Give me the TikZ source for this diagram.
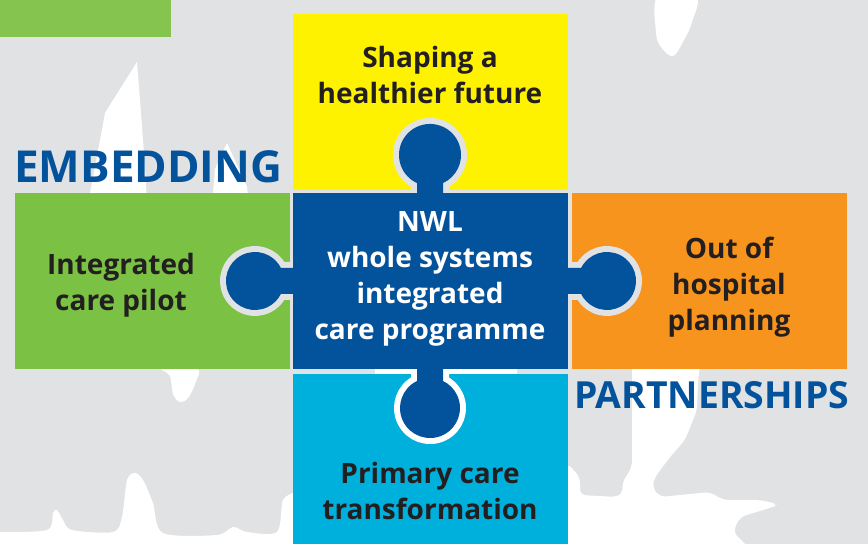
\documentclass[tikz,border=0pt]{standalone}
\usepackage{fontspec}
\setmainfont{Open Sans}
\definecolor{bggrey}{HTML}{E1E2E4}
\definecolor{nblue}{HTML}{03529C}
\definecolor{nyellow}{HTML}{FFF200}
\definecolor{ngreen}{HTML}{7BC143}
\definecolor{tlgreen}{HTML}{86C450}
\definecolor{norange}{HTML}{F7941E}
\definecolor{ncyan}{HTML}{00B0DC}
\definecolor{ntext}{HTML}{231F20}
\tikzset{
  boxtext/.style={font=\fontsize{28}{36}\selectfont\bfseries, text=ntext, align=center, inner sep=0pt},
  headtext/.style={font=\fontsize{42}{48}\selectfont\bfseries, text=nblue, inner sep=0pt},
  knobline/.style={line width=12pt, line join=round},
}
\begin{document}
\begin{tikzpicture}[x=1pt,y=1pt]
\useasboundingbox (0,0) rectangle (868,544);
\clip (0,0) rectangle (868,544);
\fill[bggrey] (0,0) rectangle (868,544);
% white silhouettes
\fill[white] (137,482) -- (140,444) -- (145,377) -- (147,340) -- (88,340) -- (90,351) -- (100,404) -- (105,431) -- cycle;
\fill[white] (227,401) -- (247,357) -- (249,340) -- (212,340) -- (215,375) -- cycle;
\fill[white] plot[smooth cycle, tension=0.6] coordinates {(162,176) (197,176) (195,160) (188,146) (180,142) (173,150) (170,168)};
\fill[white] plot[smooth cycle, tension=0.6] coordinates {(658,548) (696,548) (692,522) (684,504) (673,488) (661,497) (656,512)};
\fill[white] (-2,-2) -- (-2,12) -- plot[smooth, tension=0.5] coordinates {(0,12) (47,14) (53,31) (57,34) (63,24) (72,14) (113,12) (122,27) (127,64) (135,71) (143,64) (153,41) (163,11) (217,9) (233,17) (247,12) (277,12) (283,44) (296,52)} -- (296,-2) -- cycle;
\fill[white, rounded corners=6pt] (632,180) -- (632,77) -- (622,61) -- (623,51) -- (617,47) -- (580,49) -- (580,67) -- (567,81) -- (567,-4) -- (749,-4) -- (733,12) -- (740,27) -- (773,37) -- (778,40) -- (760,44) -- (723,44) -- (710,52) -- (680,49) -- (660,47) -- (652,57) -- (655,67) -- (670,87) -- (685,104) -- (697,134) -- (698,161) -- (700,180) -- cycle;
\fill[white, rounded corners=4pt] (375,166) rectangle (517,179);
% coloured boxes
\fill[tlgreen] (0,507) rectangle (171,544);
\fill[nyellow] (293,354) rectangle (568,530);
\fill[ngreen] (15,175) rectangle (290,351);
\fill[norange] (572,175) rectangle (847,351);
\fill[ncyan] (293,0) rectangle (568,170);
% knob outlines
\draw[knobline, bggrey] (417,351) -- (417,360.9) arc[start angle=245.2, end angle=-65.2, radius=31pt] -- (443,351);
\draw[knobline, bggrey] (293,276) -- (280.9,276) arc[start angle=26.6, end angle=333.4, radius=29pt] -- (293,250);
\draw[knobline, bggrey] (568,276) -- (581.1,276) arc[start angle=153.4, end angle=-153.4, radius=29pt] -- (568,250);
\draw[knobline, white] (417,175) -- (417,163) arc[start angle=115.7, end angle=424.3, radius=30pt] -- (443,175);
% centre piece
\fill[nblue] (293,175) rectangle (568,351);
\fill[nblue] (417,350) -- (417,360.9) arc[start angle=245.2, end angle=-65.2, radius=31pt] -- (443,350) -- cycle;
\fill[nblue] (294,276) -- (280.9,276) arc[start angle=26.6, end angle=333.4, radius=29pt] -- (294,250) -- cycle;
\fill[nblue] (567,276) -- (581.1,276) arc[start angle=153.4, end angle=-153.4, radius=29pt] -- (567,250) -- cycle;
\fill[nblue] (417,176) -- (417,163) arc[start angle=115.7, end angle=424.3, radius=30pt] -- (443,176) -- cycle;
% texts
\node[boxtext] (shaping) at (430,469) {Shaping a\\healthier future};
\node[boxtext] (pilot) at (121,259) {Integrated\\care pilot};
\node[boxtext, text=white] (nwl) at (430,265) {NWL\\whole systems\\integrated\\care programme};
\node[boxtext] (ooh) at (729,257) {Out of\\hospital\\planning};
\node[boxtext] (primary) at (430,53) {Primary care\\transformation};
\node[headtext, anchor=base west] (embed) at (14,361) {\resizebox{268pt}{!}{EMBEDDING}};
\node[headtext, anchor=base west] (partner) at (574,135) {\resizebox{275pt}{!}{PARTNERSHIPS}};
\end{tikzpicture}
\end{document}
